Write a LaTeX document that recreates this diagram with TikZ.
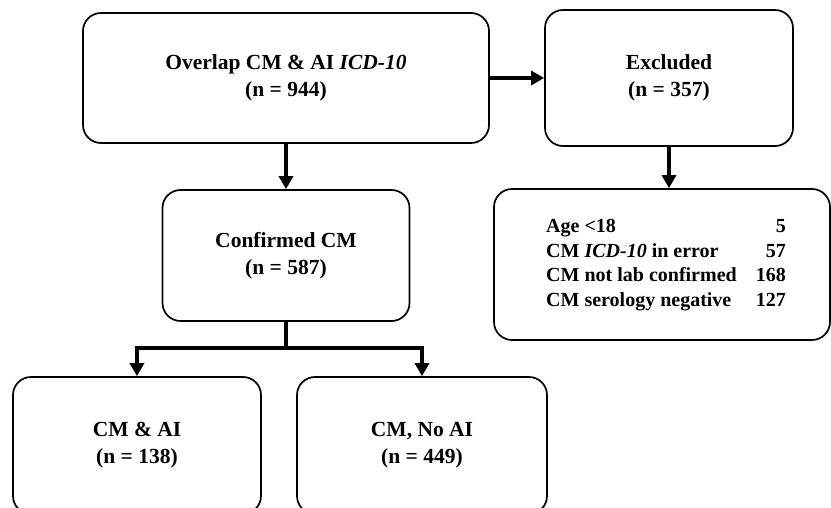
\documentclass[tikz,border=0pt]{standalone}
\usepackage{fontspec}
\setmainfont{Liberation Serif}
\usetikzlibrary{arrows.meta}
\begin{document}
\begin{tikzpicture}[x=1pt,y=-1pt,
  box/.style={draw, line width=1.7pt, rounded corners=18pt, align=center,
    font=\fontsize{21.5}{27}\selectfont\bfseries, inner sep=0pt},
  conn/.style={line width=4pt},
  arr/.style={line width=4pt, -{Triangle[width=14pt,length=13pt]}}]
\useasboundingbox (0,0) rectangle (831,508);
\clip (0,0) rectangle (831,508);
\node[box, minimum width=406pt, minimum height=130pt] (A) at (286,78)
  {Overlap CM \& AI \textit{ICD-10}\\(n = 944)};
\node[box, minimum width=248pt, minimum height=136pt] (B) at (669,78)
  {Excluded\\(n = 357)};
\node[box, minimum width=247pt, minimum height=131pt] (C) at (286,255.5)
  {Confirmed CM\\(n = 587)};
\node[box, minimum width=336pt, minimum height=151pt,
  font=\fontsize{20}{24.5}\selectfont\bfseries] (D) at (662,264.5)
  {\hspace*{8pt}\begin{tabular}{@{}l@{\hspace{19pt}}r@{}}
   Age <18 & 5\\
   CM \textit{ICD-10} in error & 57\\
   CM not lab confirmed & 168\\
   CM serology negative & 127
   \end{tabular}};
\node[box, minimum width=248pt, minimum height=137pt] (E) at (137,445.5)
  {CM \& AI\\(n = 138)};
\node[box, minimum width=250pt, minimum height=137pt] (F) at (422,445.5)
  {CM, No AI\\(n = 449)};
\coordinate (J) at (286,348);
\draw[arr] (A.east) -- (B.west);
\draw[arr] (A.south) -- (C.north);
\draw[arr] (B.south) -- (B.south |- D.north);
\draw[conn] (C.south) -- (J);
\draw[arr] ([xshift=2pt]J) -| (E.north);
\draw[arr] ([xshift=-2pt]J) -| (F.north);
\end{tikzpicture}
\end{document}
